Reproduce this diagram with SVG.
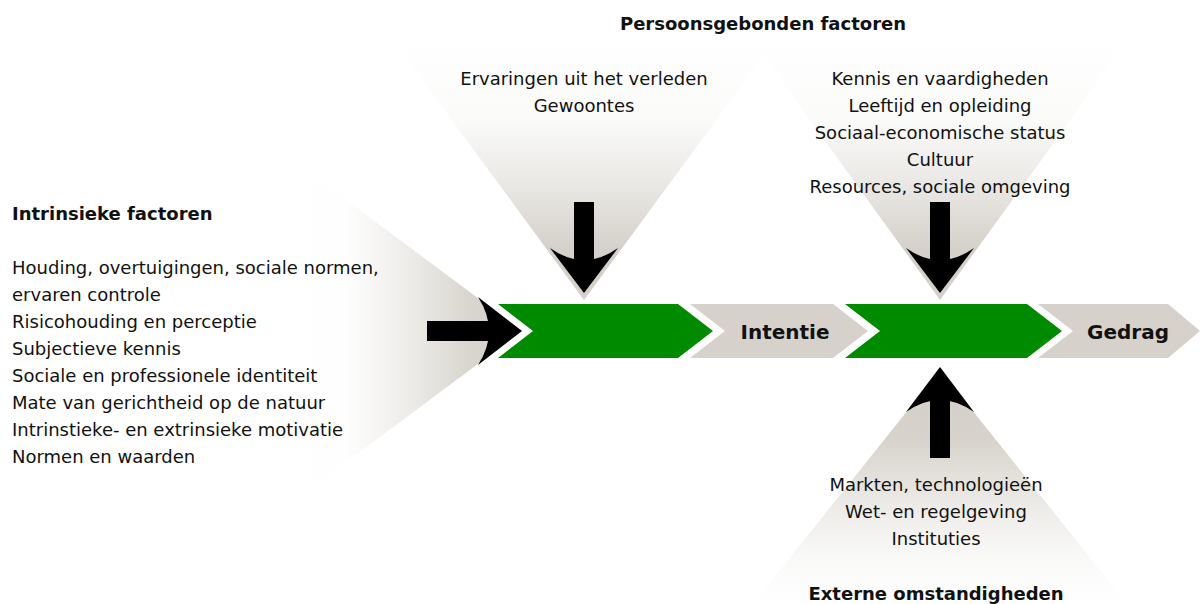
<svg xmlns="http://www.w3.org/2000/svg" width="1200" height="604" viewBox="0 0 1200 604">
  <defs>
    <!-- funnels fading from white at the open end to warm grey at the point -->
    <linearGradient id="fadeDown" gradientUnits="userSpaceOnUse" x1="0" y1="40" x2="0" y2="300">
      <stop offset="0" stop-color="#ffffff"/>
      <stop offset="0.3" stop-color="#fbfbfa"/>
      <stop offset="0.58" stop-color="#e8e6e2"/>
      <stop offset="0.8" stop-color="#d5d1ca"/>
      <stop offset="1" stop-color="#d4d0c9"/>
    </linearGradient>
    <linearGradient id="fadeRight" gradientUnits="userSpaceOnUse" x1="270" y1="0" x2="522" y2="0">
      <stop offset="0" stop-color="#ffffff"/>
      <stop offset="0.3" stop-color="#fefefe"/>
      <stop offset="0.55" stop-color="#eeece9"/>
      <stop offset="0.8" stop-color="#d8d5ce"/>
      <stop offset="1" stop-color="#d4d0c8"/>
    </linearGradient>
    <linearGradient id="fadeUp" gradientUnits="userSpaceOnUse" x1="0" y1="370" x2="0" y2="604">
      <stop offset="0" stop-color="#d4d0c8"/>
      <stop offset="0.3" stop-color="#d7d3cc"/>
      <stop offset="0.55" stop-color="#ebe9e5"/>
      <stop offset="0.8" stop-color="#f9f9f8"/>
      <stop offset="1" stop-color="#ffffff"/>
    </linearGradient>
  </defs>
  <style>
    text { font-family: "DejaVu Sans", Verdana, sans-serif; fill: #111111; }
    .item { font-size: 18px; }
    .title { font-size: 18px; font-weight: bold; }
    .stage { font-size: 20px; font-weight: bold; }
    .mid { text-anchor: middle; }
    .green { fill: #008a00; }
    .grey { fill: #d6d2cb; }
    .arrow { fill: #000000; }
  </style>

  <rect width="1200" height="604" fill="#ffffff"/>

  <!-- influence funnels -->
  <g id="funnel-ervaringen">
    <polygon points="393,40 775,40 584,300" fill="url(#fadeDown)"/>
    <text class="item mid" x="584" y="85">Ervaringen uit het verleden</text>
    <text class="item mid" x="584" y="112">Gewoontes</text>
  </g>

  <g id="funnel-kennis">
    <polygon points="752,40 1128,40 940,300" fill="url(#fadeDown)"/>
    <text class="item mid" x="940" y="85">Kennis en vaardigheden</text>
    <text class="item mid" x="940" y="112">Leeftijd en opleiding</text>
    <text class="item mid" x="940" y="139">Sociaal-economische status</text>
    <text class="item mid" x="940" y="166">Cultuur</text>
    <text class="item mid" x="940" y="193">Resources, sociale omgeving</text>
  </g>

  <g id="persoonsgebonden-title">
    <text class="title mid" x="763" y="30">Persoonsgebonden factoren</text>
  </g>

  <g id="funnel-intrinsiek">
    <polygon points="270,143 270,519 522,331" fill="url(#fadeRight)"/>
    <text class="title" x="12" y="220">Intrinsieke factoren</text>
    <text class="item" x="12" y="274">Houding, overtuigingen, sociale normen,</text>
    <text class="item" x="12" y="301">ervaren controle</text>
    <text class="item" x="12" y="328">Risicohouding en perceptie</text>
    <text class="item" x="12" y="355">Subjectieve kennis</text>
    <text class="item" x="12" y="382">Sociale en professionele identiteit</text>
    <text class="item" x="12" y="409">Mate van gerichtheid op de natuur</text>
    <text class="item" x="12" y="436">Intrinstieke- en extrinsieke motivatie</text>
    <text class="item" x="12" y="463">Normen en waarden</text>
  </g>

  <g id="funnel-extern">
    <polygon points="940,370 753,604 1127,604" fill="url(#fadeUp)"/>
    <text class="item mid" x="936" y="491">Markten, technologieën</text>
    <text class="item mid" x="936" y="518">Wet- en regelgeving</text>
    <text class="item mid" x="936" y="545">Instituties</text>
    <text class="title mid" x="936" y="600">Externe omstandigheden</text>
  </g>

  <!-- process chain -->
  <g id="step-1">
    <polygon class="green" points="498,304 678,304 713,331 678,358 498,358 533,331"/>
  </g>
  <g id="step-intentie">
    <polygon class="grey" points="690,304 833,304 868,331 833,358 690,358 725,331"/>
    <text class="stage mid" x="785" y="339">Intentie</text>
  </g>
  <g id="step-2">
    <polygon class="green" points="845,304 1027,304 1062,331 1027,358 845,358 880,331"/>
  </g>
  <g id="step-gedrag">
    <polygon class="grey" points="1038,304 1168,304 1200,331 1168,358 1038,358 1073,331"/>
    <text class="stage mid" x="1128" y="339">Gedrag</text>
  </g>

  <!-- arrows feeding into the chain: shaft plus head with a curved base -->
  <g id="connectors">
    <rect class="arrow" x="427" y="321" width="75" height="20"/>
    <path class="arrow" d="M478,297 Q500,331 478,365 L522,331 Z"/>
    <rect class="arrow" x="574" y="202" width="20" height="70"/>
    <path class="arrow" d="M550,248 Q584,272 618,248 L584,293 Z"/>
    <rect class="arrow" x="930" y="202" width="20" height="70"/>
    <path class="arrow" d="M906,248 Q940,272 974,248 L940,293 Z"/>
    <rect class="arrow" x="930" y="388" width="20" height="70"/>
    <path class="arrow" d="M906,412 Q940,388 974,412 L940,367 Z"/>
  </g>
</svg>
